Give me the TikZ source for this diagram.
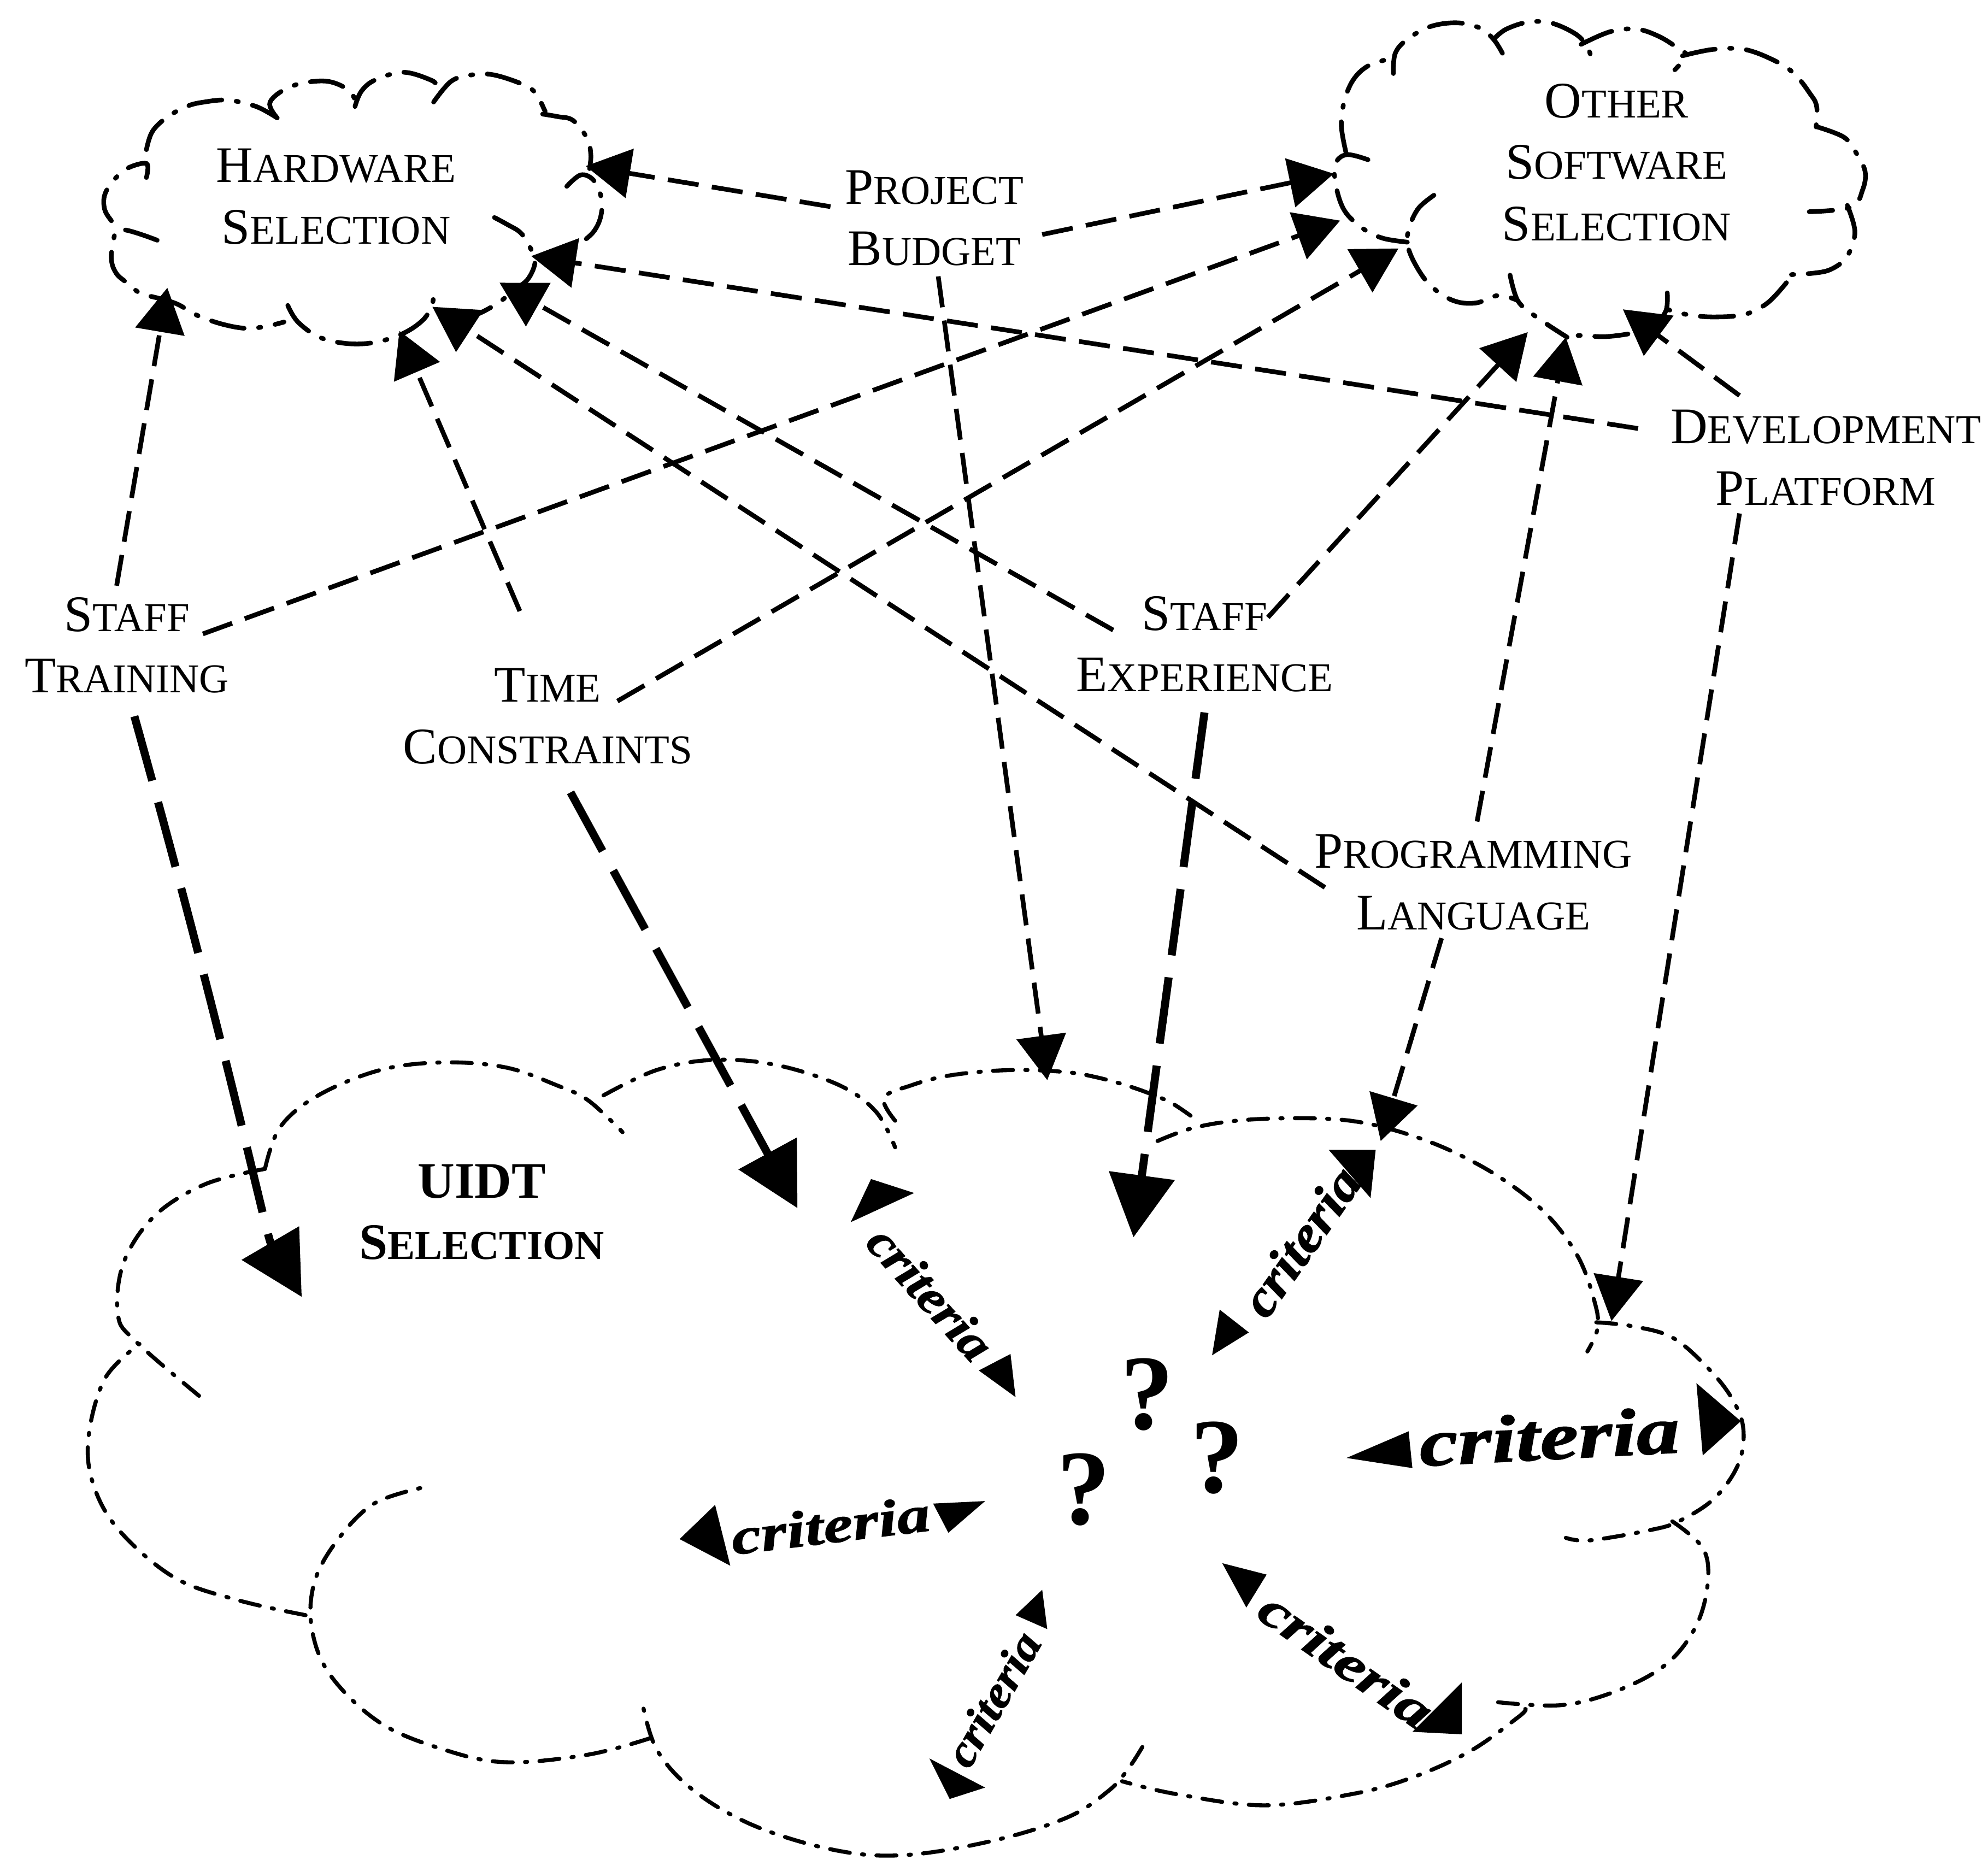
\documentclass[tikz,border=0pt]{standalone}
\usepackage{fontspec}
\setmainfont{Liberation Serif}
\newfontfamily\critfont{Liberation Serif}[FakeStretch=1.3, BoldItalicFeatures={FakeBold=1.5}]
\newfontfamily\critnarrow{Liberation Serif}[FakeStretch=1.1, BoldItalicFeatures={FakeBold=1.5}]
\usetikzlibrary{arrows.meta}

% fake small capitals: large initial, smaller capitals after it
\newcommand\smcap[2]{#1{\fontsize{18.4pt}{27.6pt}\selectfont #2}}

\begin{document}
\begin{tikzpicture}[x=0.02cm, y=-0.02cm,
  cloudline/.style={line width=2.1pt, line cap=round, dash pattern=on 15pt off 6.5pt on 1pt off 6.5pt},
  bigcloud/.style={line width=1.8pt, line cap=round, dash pattern=on 9pt off 5.5pt on 1pt off 5.5pt},
  conn/.style={line width=2.1pt, dash pattern=on 14pt off 6pt, -{Triangle[length=20pt,width=22pt]}},
  heavy/.style={line width=3.6pt, dash pattern=on 30pt off 10pt, -{Triangle[length=28pt,width=29pt]}},
  factor/.style={align=center, inner sep=2pt, font=\fontsize{23pt}{27.6pt}\selectfont},
  crit/.style={inner sep=0pt, font=\critfont\bfseries\itshape\fontsize{#1}{#1}\selectfont},
  critn/.style={inner sep=0pt, font=\critnarrow\bfseries\itshape\fontsize{#1}{#1}\selectfont},
  qmark/.style={inner sep=0pt, font=\fontsize{48pt}{52pt}\selectfont\bfseries}]

\useasboundingbox (0,0) rectangle (1568,1467);

% ---------------- Hardware Selection cloud
\draw[cloudline] plot[smooth, tension=0.6] coordinates {(115.5,140) (115.5,129) (100,133) (89,143) (82.5,154) (82.5,165) (87,173) (94,181)};
\draw[cloudline] plot[smooth, tension=0.6] coordinates {(124,189.5) (95,181) (89,193) (88,206) (92,216) (100,223) (110,231) (120,234)};
\draw[cloudline] plot[smooth, tension=0.6] coordinates {(120,234) (139,239.5) (155,248.5) (175,255.6) (194,259) (210,257.4) (224,254)};
\draw[cloudline] plot[smooth, tension=0.6] coordinates {(227,241) (235,254) (252,266) (274,271) (296,270) (318,263) (334,252) (341,239.5) (342,229)};
\draw[cloudline] plot[smooth, tension=0.6] coordinates {(390,171.6) (400,177) (411,184) (419,197) (422,207) (416.5,220) (405.5,229) (392,239.5) (375,248.5) (356,254)};
\draw[cloudline] plot[smooth, tension=0.6] coordinates {(447,147) (458,138) (468,142) (474,155) (474,170) (468,183) (456,193) (445,199)};
\draw[cloudline] plot[smooth, tension=0.6] coordinates {(428,90) (440,92) (452,95) (463,109) (466,122) (465,133)};
\draw[cloudline] plot[smooth, tension=0.6] coordinates {(342,80.5) (356,64) (372.5,59) (389,59) (411,66) (422,73) (430,88)};
\draw[cloudline] plot[smooth, tension=0.6] coordinates {(280,84) (285,72) (296,63) (318,57) (339.5,63) (345,68) (347,75)};
\draw[cloudline] plot[smooth, tension=0.6] coordinates {(218.6,93) (213,80.5) (230,68) (257,64) (276,72) (281,84)};
\draw[cloudline] plot[smooth, tension=0.6] coordinates {(115.5,118) (120,104) (131,93) (147,84) (161,80.5) (180,79) (202,84) (218.6,93)};

% ---------------- Other Software Selection cloud
\draw[cloudline] plot[smooth, tension=0.6] coordinates {(1062,122) (1058,100) (1060,81) (1067,63.5) (1079,52) (1097.5,46)};
\draw[cloudline] plot[smooth, tension=0.6] coordinates {(1099,58) (1100.5,42) (1110,31) (1128,21) (1149,18) (1167,22) (1178,31) (1185,42)};
\draw[cloudline] plot[smooth, tension=0.6] coordinates {(1178,31) (1188,23) (1206,17.3) (1224,18.3) (1243,27) (1252,37) (1255,46)};
\draw[cloudline] plot[smooth, tension=0.6] coordinates {(1247,35) (1270,25) (1291,23) (1309,29) (1324,38.5) (1330,44) (1321,55)};
\draw[cloudline] plot[smooth, tension=0.6] coordinates {(1327,44) (1351,39) (1376,39) (1400,48) (1415,58) (1427,73) (1433,85) (1431.5,108)};
\draw[cloudline] plot[smooth, tension=0.6] coordinates {(1433,100) (1454,108) (1463,119) (1471,135) (1469,150) (1460,163.5) (1427,167)};
\draw[cloudline] plot[smooth, tension=0.6] coordinates {(1457,162) (1463,183) (1457,202) (1445,212) (1430,215.5) (1403,217)};
\draw[cloudline] plot[smooth, tension=0.6] coordinates {(1409,223) (1394,239) (1376,248) (1351,250) (1330,248) (1315,244)};
\draw[cloudline] plot[smooth, tension=0.6] coordinates {(1315,231) (1314,245) (1305,256) (1291,262) (1267,265.5) (1246,264.6) (1236,266)};
\draw[cloudline] plot[smooth, tension=0.6] coordinates {(1191,217) (1197,237) (1209,248) (1222,257) (1236,266)};
\draw[cloudline] plot[smooth, tension=0.6] coordinates {(1131,154) (1119,164) (1112,178) (1110,192) (1116,208) (1128,225) (1146,237) (1164,239) (1182,233) (1197,237)};
\draw[cloudline] plot[smooth, tension=0.6] coordinates {(1079,126) (1062,122) (1053,130) (1054,148) (1061,167) (1076,181) (1091,188) (1110,191)};

% ---------------- UIDT Selection cloud
\draw[bigcloud] plot[smooth, tension=0.6] coordinates {(209,922) (221,889) (251,864) (300,844) (350,838) (399,842) (439,856) (464,868) (491,893)};
\draw[bigcloud] plot[smooth, tension=0.6] coordinates {(476,864) (518,844) (563,836) (612,840) (662,856) (691,877) (706,905)};
\draw[bigcloud] plot[smooth, tension=0.6] coordinates {(706,884) (697,866) (719,856) (745,849) (778,845) (811,844) (844,846) (866,850) (888,856) (908,863) (924,870) (939,880)};
\draw[bigcloud] plot[smooth, tension=0.6] coordinates {(913,900) (940,890) (975,884) (1020,882) (1065,884) (1105,893) (1145,908) (1185,930) (1220,958) (1245,992) (1258,1028) (1260,1048) (1252,1066)};
\draw[bigcloud] plot[smooth, tension=0.6] coordinates {(1259,1043) (1287,1046) (1319,1055) (1347,1079) (1366,1103) (1375,1127) (1371,1155) (1352,1182) (1324,1200) (1301,1207) (1254,1215) (1235,1213)};
\draw[bigcloud] plot[smooth, tension=0.6] coordinates {(1319,1200) (1343,1221) (1347,1248) (1338,1282) (1315,1312) (1277,1333) (1231,1345) (1175,1342)};
\draw[bigcloud] plot[smooth, tension=0.6] coordinates {(1203,1348) (1198,1354) (1160,1381) (1114,1402) (1067,1415) (997,1424) (927,1415) (885,1405)};
\draw[bigcloud] plot[smooth, tension=0.6] coordinates {(901,1378) (890,1395) (875,1412) (843,1433) (787,1451) (717,1463) (662,1460) (597,1441) (548,1413) (518,1380) (506,1340)};
\draw[bigcloud] plot[smooth, tension=0.6] coordinates {(513,1371) (464,1384) (399,1390) (350,1380) (300,1359) (261,1322) (246,1285) (248,1248) (266,1215) (295,1186) (335,1173)};
\draw[bigcloud] plot[smooth, tension=0.6] coordinates {(241,1274) (187,1262) (137,1244) (93,1206) (73,1169) (70,1132) (83,1087) (110,1060)};
\draw[bigcloud] plot[smooth, tension=0.6] coordinates {(157,1101) (107,1058) (93,1037) (97.5,996) (122,959) (162,934) (209,922)};

% ---------------- titles and factors
\node[factor] (hw) at (265,155) {\smcap{H}{ARDWARE}\\\smcap{S}{ELECTION}};
\node[factor] (os) at (1275,128) {\smcap{O}{THER}\\\smcap{S}{OFTWARE}\\\smcap{S}{ELECTION}};
\node[factor, font=\fontsize{23pt}{27.6pt}\selectfont\bfseries] (uidt) at (380,956) {UIDT\\\smcap{S}{ELECTION}};
\node[factor] (pb) at (737,172) {\smcap{P}{ROJECT}\\\smcap{B}{UDGET}};
\node[factor] (dp) at (1440,361) {\smcap{D}{EVELOPMENT}\\\smcap{P}{LATFORM}};
\node[factor] (st) at (100,509) {\smcap{S}{TAFF}\\\smcap{T}{RAINING}};
\node[factor] (tc) at (432,565) {\smcap{T}{IME}\\\smcap{C}{ONSTRAINTS}};
\node[factor] (se) at (950,508) {\smcap{S}{TAFF}\\\smcap{E}{XPERIENCE}};
\node[factor] (pl) at (1162,696) {\smcap{P}{ROGRAMMING}\\\smcap{L}{ANGUAGE}};

% ---------------- connector end points
\coordinate (hw-pb) at (462,131);
\coordinate (hw-dp) at (419,202);
\coordinate (hw-se) at (394,223);
\coordinate (hw-pl) at (341,242);
\coordinate (hw-tc) at (315,261);
\coordinate (hw-st) at (132,227);
\coordinate (os-pb) at (1052,137);
\coordinate (os-st) at (1057,174);
\coordinate (os-tc) at (1103,196);
\coordinate (os-se) at (1205,262);
\coordinate (os-pl) at (1235,266);
\coordinate (os-dp) at (1280,244);
\coordinate (ui-pb) at (826,852);
\coordinate (ui-dp) at (1271,1042);
\coordinate (ui-st) at (238,1023);
\coordinate (ui-tc) at (629,953);
\coordinate (ui-se) at (894,976);
\coordinate (ui-pl) at (1089,900);

\coordinate (pb-h) at (655,163);
\coordinate (pb-o) at (822,185);
\coordinate (pb-u) at (740,218);
\coordinate (dp-h) at (1292,338);
\coordinate (dp-o) at (1372,312);
\coordinate (dp-u) at (1372,405);
\coordinate (st-h) at (92,462);
\coordinate (st-o) at (160,500);
\coordinate (st-u) at (106,565);
\coordinate (tc-h) at (410,482);
\coordinate (tc-o) at (487,553);
\coordinate (tc-u) at (450,625);
\coordinate (se-h) at (878,497);
\coordinate (se-o) at (1000,487);
\coordinate (se-u) at (950,562);
\coordinate (pl-h) at (1045,700);
\coordinate (pl-o) at (1165,648);
\coordinate (pl-u) at (1137,740);

% ---------------- connectors
\draw[conn] (pb-h) -- (hw-pb);
\draw[conn] (pb-o) -- (os-pb);
\draw[conn] (pb-u) -- (ui-pb);
\draw[conn] (dp-h) -- (hw-dp);
\draw[conn] (dp-o) -- (os-dp);
\draw[conn] (dp-u) -- (ui-dp);
\draw[conn] (st-h) -- (hw-st);
\draw[conn] (st-o) -- (os-st);
\draw[heavy] (st-u) .. controls (180,830) and (210,975) .. (ui-st);
\draw[conn] (tc-h) -- (hw-tc);
\draw[conn] (tc-o) -- (os-tc);
\draw[heavy] (tc-u) -- (ui-tc);
\draw[conn] (se-h) -- (hw-se);
\draw[conn] (se-o) -- (os-se);
\draw[heavy] (se-u) -- (ui-se);
\draw[conn] (pl-h) -- (hw-pl);
\draw[conn] (pl-o) -- (os-pl);
\draw[conn] (pl-u) -- (ui-pl);

% ---------------- criteria around the open question
\node[critn=22pt, rotate=-48] (cr1) at (734,1020) {criteria};
\fill (671,964) -- (687,930) -- (721,941) -- cycle;
\fill (772,1081) -- (797,1068) -- (801,1102) -- cycle;

\node[critn=23pt, rotate=55] (cr2) at (1026,979) {criteria};
\fill (956,1069) -- (962,1033) -- (985,1051) -- cycle;
\fill (1048,907) -- (1085,907) -- (1081,945) -- cycle;

\node[crit=30pt, rotate=3] (cr3) at (1222,1133) {criteria};
\fill (1062,1150) -- (1111,1129) -- (1114,1158) -- cycle;
\fill (1338,1091) -- (1373,1121) -- (1343,1148) -- cycle;

\node[crit=23pt, rotate=7] (cr4) at (655,1203) {criteria};
\fill (536,1214) -- (564,1187) -- (576,1235) -- cycle;
\fill (736,1186) -- (777,1184) -- (748,1209) -- cycle;

\node[crit=23pt, rotate=-35] (cr5) at (1062,1309) {criteria};
\fill (964,1233) -- (999,1242) -- (983,1268) -- cycle;
\fill (1114,1366) -- (1153,1327) -- (1153,1368) -- cycle;

\node[critn=20pt, rotate=60] (cr6) at (783,1340) {criteria};
\fill (733,1387) -- (777,1410) -- (749,1419) -- cycle;
\fill (801,1274) -- (822,1254) -- (826,1285) -- cycle;

\node[qmark] (q1) at (905,1100) {?};
\node[qmark] (q2) at (960,1150) {?};
\node[qmark] (q3) at (855,1175) {?};
\end{tikzpicture}
\end{document}
